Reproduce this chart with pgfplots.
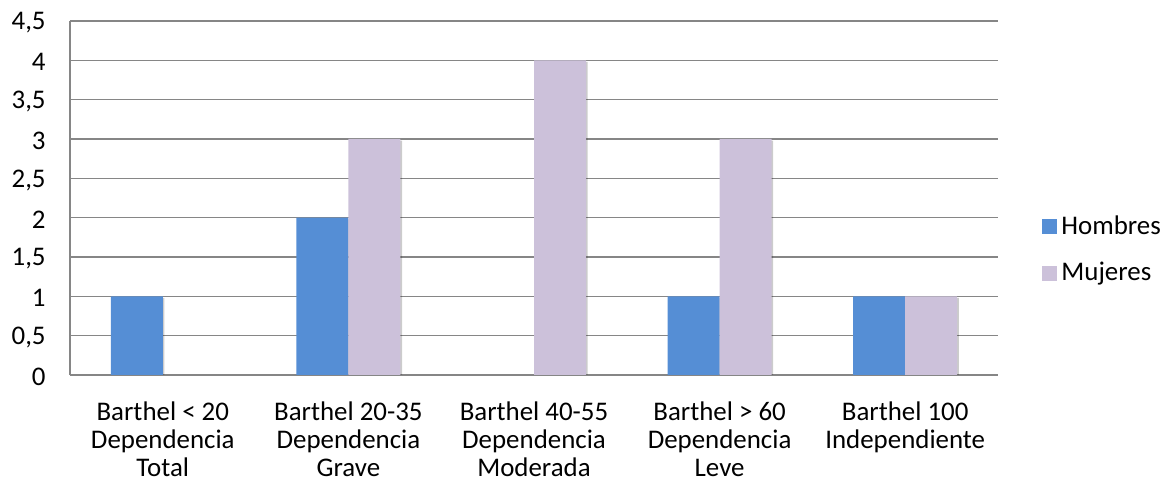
\documentclass[border=0pt]{standalone}
\usepackage{fontspec}
\setmainfont{Carlito}
\usepackage{pgfplots}
\pgfplotsset{compat=1.18}
\usetikzlibrary{shadows}

\definecolor{hombres}{RGB}{85,142,213}
\definecolor{mujeres}{RGB}{204,193,218}
\definecolor{gridgray}{RGB}{134,134,134}

\tikzset{barshadow/.style={drop shadow={shadow xshift=0.8bp, shadow yshift=-0.8bp,
  fill=black, opacity=0.2}}}

\begin{document}
\fontsize{13.5}{14.2}\selectfont
\begin{tikzpicture}
\path[use as bounding box] (0,0) rectangle (582.5bp,243.5bp);
\begin{axis}[
  at={(35bp,56bp)}, anchor=south west,
  scale only axis,
  width=464bp, height=177bp,
  ymin=0, ymax=4.5,
  ytick={0,0.5,...,4.5},
  xmin=-0.5, xmax=4.5,
  xtick={0,1,2,3,4},
  xticklabels={
    {Barthel < 20\\Dependencia\\Total},
    {Barthel 20-35\\Dependencia\\Grave},
    {Barthel 40-55\\Dependencia\\Moderada},
    {Barthel > 60\\Dependencia\\Leve},
    {Barthel 100\\Independiente}},
  xticklabel style={align=center, anchor=north, inner sep=0pt, yshift=-13bp,
    font=\fontsize{13.5}{14.2}\selectfont},
  yticklabel style={anchor=east, inner sep=0pt, xshift=-12bp, yshift=-1bp,
    font=\fontsize{13.5}{14.2}\selectfont},
  major tick length=0pt,
  /pgf/number format/.cd, use comma, assume math mode=true,
  /pgfplots/.cd,
  ymajorgrids,
  grid style={draw=gridgray, line width=0.8bp},
  axis x line*=bottom,
  axis y line*=left,
  axis line style={draw=gridgray, line width=0.8bp, -},
  bar width=26bp,
  legend style={at={(1,0.353)}, anchor=west, xshift=22bp, draw=none, fill=none,
    inner sep=0pt, row sep=8bp, font=\fontsize{13.5}{14.2}\selectfont,
    /tikz/every even column/.append style={column sep=0pt}},
  legend cell align=left,
  legend image code/.code={\fill[#1] (0bp,-3.75bp) rectangle (7.5bp,3.75bp);},
]
% bars (the shadows stay out of the legend keys)
\addplot[ybar, bar shift=-13bp, fill=hombres, draw=none, barshadow, forget plot]
  coordinates {(0,1) (1,2) (2,0) (3,1) (4,1)};
\addplot[ybar, bar shift=13bp, fill=mujeres, draw=none, barshadow, forget plot]
  coordinates {(0,0) (1,3) (2,4) (3,3) (4,1)};
\addlegendimage{fill=hombres, draw=none}
\addlegendentry{Hombres}
\addlegendimage{fill=mujeres, draw=none}
\addlegendentry{Mujeres}
\end{axis}
\end{tikzpicture}
\end{document}
